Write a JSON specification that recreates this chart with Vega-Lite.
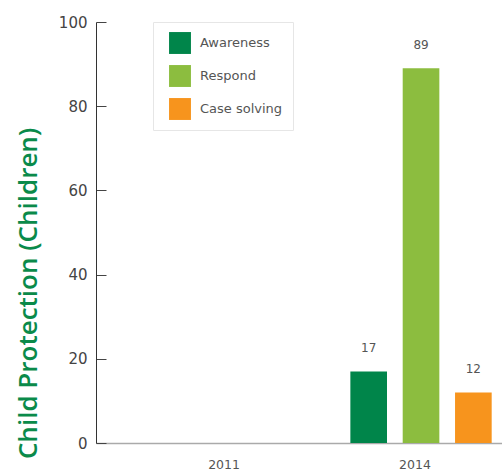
{
  "$schema": "https://vega.github.io/schema/vega-lite/v6.json",
  "autosize": {"type": "none"},
  "padding": {"left": 96, "top": 22, "right": 0, "bottom": 29},
  "width": 406,
  "height": 421,
  "background": "white",
  "config": {
    "view": {"stroke": null},
    "font": "DejaVu Sans"
  },
  "data": {
    "values": [
      {"year": "2014", "category": "Awareness", "value": 17},
      {"year": "2014", "category": "Respond", "value": 89},
      {"year": "2014", "category": "Case solving", "value": 12}
    ]
  },
  "encoding": {
    "x": {
      "field": "year",
      "type": "nominal",
      "scale": {"domain": ["2011", "2014"], "paddingInner": 0.26, "paddingOuter": 0.193, "align": 0.86},
      "axis": {
        "title": null,
        "labelAngle": 0,
        "ticks": false,
        "labelPadding": 15,
        "labelOffset": -6,
        "labelFontSize": 12.5,
        "labelColor": "#555",
        "domainColor": "#aaa",
        "domainWidth": 1.5
      }
    },
    "xOffset": {
      "field": "category",
      "type": "nominal",
      "sort": ["Awareness", "Respond", "Case solving"],
      "scale": {"paddingInner": 0.3, "paddingOuter": 0}
    },
    "y": {
      "field": "value",
      "type": "quantitative",
      "scale": {"domain": [0, 100]},
      "axis": {
        "title": "Child Protection (Children)",
        "titleColor": "#0a8a4a",
        "titleFont": "Open Sans",
        "titleFontSize": 26,
        "titleFontWeight": 600,
        "titleX": -68,
        "titleY": 271,
        "titleAlign": "center",
        "titleBaseline": "middle",
        "titleAngle": -90,
        "titleLimit": 500,
        "values": [0, 20, 40, 60, 80, 100],
        "grid": false,
        "tickSize": -10,
        "tickColor": "#444",
        "labelPadding": 19,
        "labelFontSize": 15,
        "labelColor": "#444",
        "domainColor": "#333"
      }
    }
  },
  "layer": [
    {
      "mark": {"type": "bar"},
      "encoding": {
        "color": {
          "field": "category",
          "type": "nominal",
          "sort": ["Awareness", "Respond", "Case solving"],
          "scale": {
            "domain": ["Awareness", "Respond", "Case solving"],
            "range": ["#00854a", "#8cbd3f", "#f7941d"]
          },
          "legend": {
            "title": null,
            "orient": "none",
            "legendX": 57,
            "legendY": 0,
            "symbolType": "square",
            "symbolSize": 480,
            "symbolStrokeWidth": 0,
            "symbolOpacity": 1,
            "symbolOffset": 6,
            "rowPadding": 11,
            "labelFontSize": 13,
            "labelColor": "#555",
            "labelOffset": 9,
            "padding": 10,
            "strokeColor": "#e6e6e6",
            "fillColor": "white"
          }
        }
      }
    },
    {
      "mark": {"type": "text", "baseline": "bottom", "dy": -16, "fontSize": 12, "color": "#555"},
      "encoding": {
        "text": {"field": "value", "type": "quantitative"}
      }
    }
  ]
}
